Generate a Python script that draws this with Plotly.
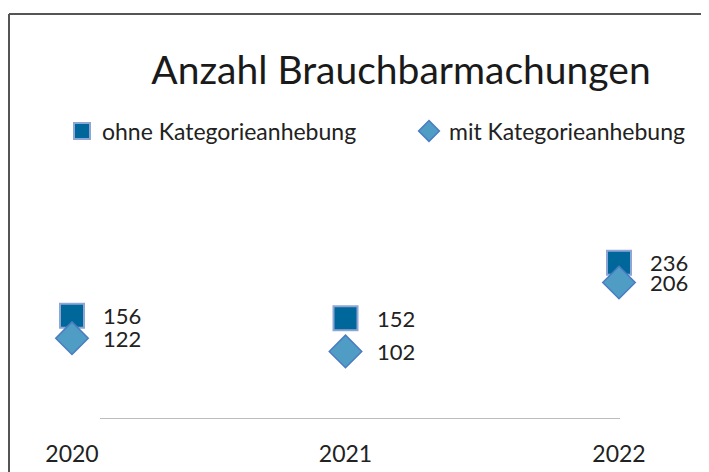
import plotly.graph_objects as go

years = [2020, 2021, 2022]
ohne = [156, 152, 236]
mit = [122, 102, 206]
series_names = ["ohne Kategorieanhebung", "mit Kategorieanhebung"]

FONT = "Lato, 'Open Sans', sans-serif"
W, H = 709, 472
OFF = 8  # page body margin, positions below are in figure pixels
ZERO = 419 - OFF       # pixel of value 0
TOP = 154 - OFF        # pixel of value 400
T, B = TOP, H - ZERO


def py(p):
    # figure pixel (from top) -> paper y
    return (ZERO - p) / (ZERO - TOP)


fig = go.Figure()
fig.add_trace(go.Scatter(
    x=years, y=ohne, name=series_names[0], mode="markers", legend="legend",
    marker=dict(symbol="square", size=24, color="#00679a",
                line=dict(color="#8ea6d6", width=2)),
))
fig.add_trace(go.Scatter(
    x=years, y=mit, name=series_names[1], mode="markers", legend="legend2",
    marker=dict(symbol="diamond", size=25, color="#4f9cc4",
                line=dict(color="#4a7cc2", width=1.5)),
))

# data labels to the right of the markers
for vals in (ohne, mit):
    for x, v in zip(years, vals):
        fig.add_annotation(x=x, y=v, text=str(v), showarrow=False,
                           xanchor="left", xshift=29,
                           font=dict(family=FONT, size=22, color="#222"))

# horizontal base line
fig.add_shape(type="line", xref="paper", yref="y",
              x0=(100 - OFF) / W, x1=(620 - OFF) / W, y0=0, y1=0,
              line=dict(color="#a6a6a6", width=1.5))
# chart frame (left + top visible)
fx = (9 - OFF) / W
fy = py(14 - OFF)
fig.add_shape(type="line", xref="paper", yref="paper",
              x0=fx, x1=fx, y0=fy, y1=-0.5,
              line=dict(color="#555", width=2))
fig.add_shape(type="line", xref="paper", yref="paper",
              x0=fx, x1=1.05, y0=fy, y1=fy,
              line=dict(color="#555", width=2))

px_per_year = (619 - 72) / 2
x0 = 2020 - (72 - OFF) / px_per_year
x1 = x0 + W / px_per_year

leg_common = dict(orientation="h", xanchor="left", yanchor="middle",
                  y=py(131 - OFF), itemwidth=30,
                  font=dict(family=FONT, size=23, color="#222"))

fig.update_layout(
    width=W, height=H,
    margin=dict(l=0, r=0, t=T, b=B, autoexpand=False),
    paper_bgcolor="white", plot_bgcolor="white",
    title=dict(text="Anzahl Brauchbarmachungen", x=(401 - OFF) / W, xanchor="center",
               y=1 - (70 - OFF) / H, yanchor="middle",
               font=dict(family=FONT, size=39, color="#1a1a1a")),
    showlegend=True,
    legend=dict(x=(80 - OFF - 18) / W, **leg_common),
    legend2=dict(x=(427 - OFF - 18) / W, **leg_common),
    xaxis=dict(range=[x0, x1], tickvals=years, ticktext=[str(y) for y in years],
               showgrid=False, zeroline=False, showline=False,
               ticks="outside", ticklen=14, tickcolor="rgba(0,0,0,0)",
               tickfont=dict(family=FONT, size=23, color="#222")),
    yaxis=dict(range=[0, 400], visible=False),
)

fig.write_html("out.html")
